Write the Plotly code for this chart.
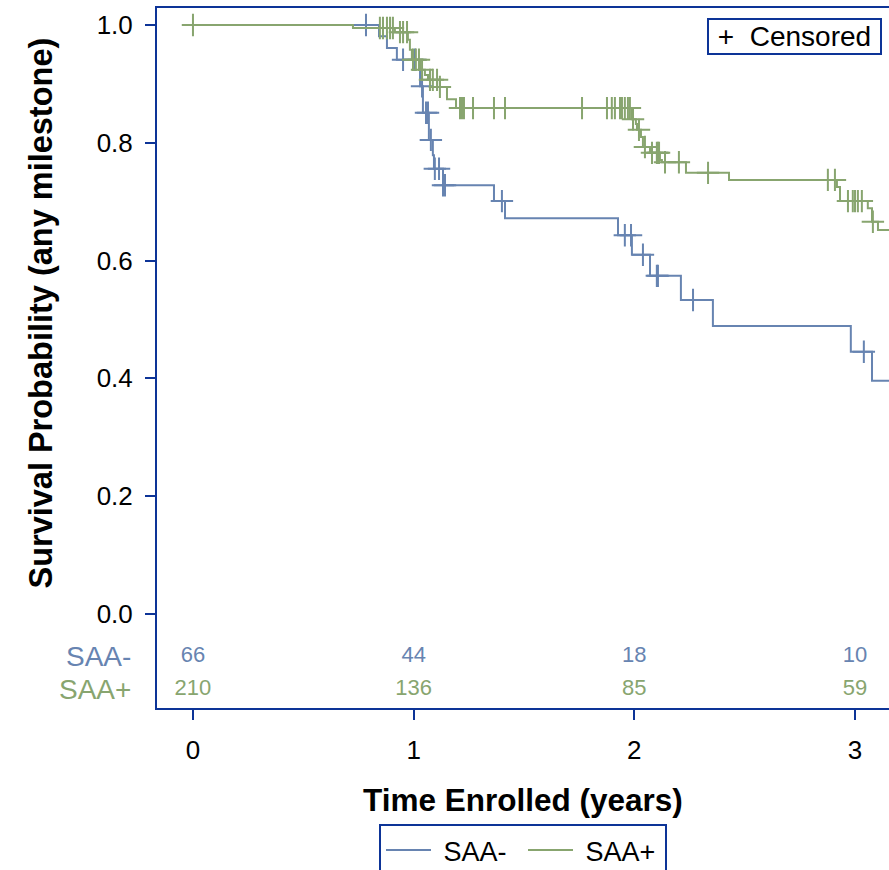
import numpy as np
import plotly.graph_objects as go

# ---------------- data ----------------
# Kaplan-Meier step estimates (time in years, survival probability)
saa_neg_t = [0, 0.843, 0.879, 0.924, 1.029, 1.042, 1.069, 1.087, 1.092, 1.133, 1.364, 1.414,
             1.926, 1.989, 2.071, 2.211, 2.356, 2.981, 3.077, 3.25]
saa_neg_s = [1.0, 0.981, 0.961, 0.941, 0.896, 0.851, 0.805, 0.779, 0.756, 0.728, 0.701, 0.672,
             0.643, 0.610, 0.574, 0.533, 0.489, 0.445, 0.396, 0.396]
saa_neg_cens = [0.784, 0.952, 1.006, 1.038, 1.056, 1.065, 1.078, 1.096, 1.115, 1.133, 1.142,
                1.400, 1.957, 1.985, 2.039, 2.102, 2.107, 2.266, 3.040]

saa_pos_t = [0, 0.725, 0.915, 0.974, 0.983, 0.992, 1.029, 1.051, 1.065, 1.119, 1.151, 1.192,
             1.989, 2.007, 2.012, 2.030, 2.039, 2.071, 2.116, 2.125, 2.234, 2.429, 2.918, 2.932,
             3.058, 3.077, 3.104, 3.25]
saa_pos_s = [1.0, 0.995, 0.988, 0.975, 0.958, 0.941, 0.924, 0.915, 0.907, 0.895, 0.874, 0.859,
             0.840, 0.832, 0.822, 0.810, 0.793, 0.783, 0.771, 0.767, 0.749, 0.737, 0.725, 0.701,
             0.689, 0.666, 0.652, 0.652]
saa_pos_cens = [0, 0.847, 0.861, 0.879, 0.893, 0.906, 0.938, 0.952, 0.970, 0.997, 1.010, 1.024,
                1.038, 1.074, 1.087, 1.106, 1.119, 1.210, 1.219, 1.228, 1.269, 1.364, 1.414,
                1.763, 1.876, 1.898, 1.912, 1.935, 1.944, 1.957, 1.971, 1.980, 1.994, 2.021,
                2.048, 2.080, 2.102, 2.107, 2.112, 2.139, 2.202, 2.334, 2.877, 2.909, 2.968,
                2.990, 3.000, 3.013, 3.031, 3.081]

risk_times = [0, 1, 2, 3]
risk_neg = [66, 44, 18, 10]
risk_pos = [210, 136, 85, 59]
x_ticks = [0, 1, 2, 3]
y_ticks = [0.0, 0.2, 0.4, 0.6, 0.8, 1.0]

# ---------------- style ----------------
BLUE = "#6784b1"
GREEN = "#88a56f"
FRAME = "#0d3497"
FONT = "Liberation Sans, Arial, sans-serif"


def surv_at(tt, ts, ss):
    idx = np.searchsorted(np.array(ts), np.array(tt), side="right") - 1
    return list(np.array(ss)[idx])


fig = go.Figure()

for name, t, s, cens, col in [("SAA-", saa_neg_t, saa_neg_s, saa_neg_cens, BLUE),
                              ("SAA+", saa_pos_t, saa_pos_s, saa_pos_cens, GREEN)]:
    fig.add_trace(go.Scatter(x=t, y=s, mode="lines", line=dict(color=col, width=2, shape="hv"),
                             name="\u00a0" + name, cliponaxis=True))
    fig.add_trace(go.Scatter(x=cens, y=surv_at(cens, t, s), mode="markers",
                             marker=dict(symbol="cross-thin-open", size=16, color=col,
                                         line=dict(color=col, width=2)),
                             showlegend=False, hoverinfo="skip"))

# at-risk numbers
ROW_NEG = -0.073
ROW_POS = -0.129
fig.add_trace(go.Scatter(x=risk_times, y=[ROW_NEG] * len(risk_times), mode="text",
                         text=[str(v) for v in risk_neg], textposition="middle center",
                         textfont=dict(color=BLUE, size=22, family=FONT),
                         showlegend=False, hoverinfo="skip"))
fig.add_trace(go.Scatter(x=risk_times, y=[ROW_POS] * len(risk_times), mode="text",
                         text=[str(v) for v in risk_pos], textposition="middle center",
                         textfont=dict(color=GREEN, size=22, family=FONT),
                         showlegend=False, hoverinfo="skip"))

annotations = [
    dict(text="SAA-", xref="paper", yref="y", x=0, y=ROW_NEG, xanchor="right", yanchor="middle",
         xshift=-24, showarrow=False, font=dict(color=BLUE, size=28, family=FONT)),
    dict(text="SAA+", xref="paper", yref="y", x=0, y=ROW_POS, xanchor="right", yanchor="middle",
         xshift=-24, showarrow=False, font=dict(color=GREEN, size=28, family=FONT)),
    dict(text="<b>Survival Probability (any milestone)</b>", xref="paper", yref="y", x=0, y=0.51,
         xanchor="center", yanchor="middle", xshift=-116, textangle=-90, showarrow=False,
         font=dict(color="black", size=32.5, family=FONT)),
    dict(text="<b>Time Enrolled (years)</b>", xref="paper", yref="paper", x=0.5, y=0,
         xanchor="center", yanchor="middle", yshift=-92, showarrow=False,
         font=dict(color="black", size=31.5, family=FONT)),
    dict(text="\u00a0+  Censored\u00a0", xref="paper", yref="paper", x=0.9904, y=0.9857,
         xanchor="right", yanchor="top", showarrow=False, bordercolor=FRAME, borderwidth=2,
         borderpad=1, bgcolor="white", font=dict(color="black", size=28, family=FONT)),
]

fig.update_layout(
    width=889, height=870,
    margin=dict(l=157, r=0, t=8, b=162, autoexpand=False),
    paper_bgcolor="white", plot_bgcolor="white",
    font=dict(family=FONT, color="black"),
    showlegend=True,
    annotations=annotations,
    xaxis=dict(range=[-0.163, 3.154], tickvals=x_ticks, ticktext=[str(v) for v in x_ticks],
               showgrid=False, zeroline=False, showline=True, mirror=True, linecolor=FRAME,
               linewidth=2, ticks="outside", ticklen=10, tickwidth=2, tickcolor=FRAME,
               tickfont=dict(size=26, color="black"), ticklabelstandoff=8, fixedrange=True),
    yaxis=dict(range=[-0.16, 1.029], tickvals=y_ticks, ticktext=[f"{v:.1f}" for v in y_ticks],
               showgrid=False, zeroline=False, showline=True, mirror=False, linecolor=FRAME,
               linewidth=2, ticks="outside", ticklen=10, tickwidth=2, tickcolor=FRAME,
               tickfont=dict(size=26, color="black"), ticklabelstandoff=7, fixedrange=True),
    legend=dict(orientation="h", x=0.5, xanchor="center", y=-0.1657, yanchor="top",
                bordercolor=FRAME, borderwidth=2, bgcolor="white",
                font=dict(size=27, color="black"), itemwidth=45,
                entrywidth=82, entrywidthmode="pixels"),
)

fig.write_html("out.html", config={"displayModeBar": False},
               post_script="document.body.style.margin='0';")
